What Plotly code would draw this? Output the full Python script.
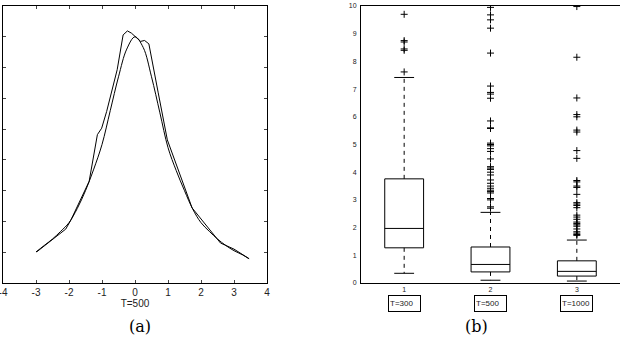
import plotly.graph_objects as go

# ---------- panel (a) data ----------
emp_x = [-2.98, -2.1, -1.95, -1.39, -1.14, -1.01, -0.86, -0.54, -0.36, -0.23, -0.11,
         0.17, 0.29, 0.42, 0.7, 0.98, 1.73, 1.98, 2.59, 3.0, 3.46]
emp_y = [1.01, 1.75, 2.03, 3.30, 4.82, 5.03, 5.57, 6.93, 8.06, 8.19, 8.12,
         7.85, 7.88, 7.77, 6.2, 4.65, 2.44, 2.11, 1.30, 1.10, 0.79]
fit_x = [-3.0, -2.75, -2.5, -2.25, -2.0, -1.75, -1.5, -1.25, -1.0, -0.75, -0.5, -0.25, 0.0,
         0.25, 0.5, 0.75, 1.0, 1.25, 1.5, 1.75, 2.0, 2.25, 2.5, 2.75, 3.0, 3.25, 3.45]
fit_y = [1.01, 1.22, 1.43, 1.68, 1.96, 2.42, 3.0, 3.7, 4.5, 5.6, 6.7, 7.6, 8.0,
         7.65, 6.7, 5.55, 4.4, 3.65, 3.0, 2.4, 1.96, 1.68, 1.43, 1.22, 1.05, 0.92, 0.79]
a_xticks = [-4, -3, -2, -1, 0, 1, 2, 3, 4]
a_xtext = ["-4", "-3", "-2", "-1", "0", "1", "2", "3", "4"]

# ---------- panel (b) data ----------
positions = [1, 2, 3]
pos_labels = ["1", "2", "3"]
group_labels = ["T=300", "T=500", "T=1000"]
q1 = [1.27, 0.40, 0.25]
median = [1.97, 0.67, 0.42]
q3 = [3.76, 1.30, 0.80]
low_whisk = [0.35, 0.10, 0.07]
up_whisk = [7.42, 2.55, 1.55]
outliers = [
    [7.62, 8.40, 8.45, 8.70, 8.75, 9.70],
    [2.70, 2.75, 3.0, 3.05, 3.25, 3.30, 3.35, 3.42, 3.50, 3.60, 3.72, 3.90, 4.0, 4.10,
     4.15, 4.20, 4.48, 4.75, 4.85, 4.95, 5.0, 5.05, 5.58, 5.60, 5.85, 6.67, 6.82, 6.88,
     7.11, 8.30, 9.20, 9.50, 9.68, 9.95],
    [1.72, 1.75, 1.80, 1.85, 1.95, 2.05, 2.10, 2.15, 2.20, 2.30, 2.38, 2.45, 2.72, 2.80,
     2.85, 2.90, 3.20, 3.45, 3.50, 3.65, 3.70, 4.50, 4.78, 5.45, 5.52, 6.0, 6.08, 6.68,
     8.15, 9.98],
]
b_yticks = list(range(0, 11))

BOX_HW = 0.225
CAP_HW = 0.115
LINE = dict(color="black", width=1)

fig = go.Figure()

# panel (a)
fig.add_trace(go.Scatter(x=emp_x, y=emp_y, mode="lines", line=LINE,
                         xaxis="x", yaxis="y", showlegend=False, hoverinfo="skip"))
fig.add_trace(go.Scatter(x=fit_x, y=fit_y, mode="lines", line=dict(color="black", width=1, shape="spline"),
                         xaxis="x", yaxis="y", showlegend=False, hoverinfo="skip"))

# panel (b): boxes drawn from the statistics
for i, p in enumerate(positions):
    bx = [p - BOX_HW, p + BOX_HW, p + BOX_HW, p - BOX_HW, p - BOX_HW]
    by = [q1[i], q1[i], q3[i], q3[i], q1[i]]
    fig.add_trace(go.Scatter(x=bx, y=by, mode="lines", line=LINE,
                             xaxis="x2", yaxis="y2", showlegend=False, hoverinfo="skip"))
    fig.add_trace(go.Scatter(x=[p - BOX_HW, p + BOX_HW], y=[median[i], median[i]], mode="lines",
                             line=LINE, xaxis="x2", yaxis="y2", showlegend=False, hoverinfo="skip"))
    fig.add_trace(go.Scatter(x=[p, p, None, p, p], y=[q3[i], up_whisk[i], None, q1[i], low_whisk[i]],
                             mode="lines", line=dict(color="black", width=1, dash="4px,4px"),
                             xaxis="x2", yaxis="y2", showlegend=False, hoverinfo="skip"))
    fig.add_trace(go.Scatter(x=[p - CAP_HW, p + CAP_HW, None, p - CAP_HW, p + CAP_HW],
                             y=[up_whisk[i], up_whisk[i], None, low_whisk[i], low_whisk[i]],
                             mode="lines", line=LINE, xaxis="x2", yaxis="y2",
                             showlegend=False, hoverinfo="skip"))
    fig.add_trace(go.Scatter(x=[p] * len(outliers[i]), y=outliers[i], mode="markers",
                             marker=dict(symbol="cross-thin", size=5,
                                         line=dict(color="black", width=1)),
                             xaxis="x2", yaxis="y2", showlegend=False, hoverinfo="skip",
                             cliponaxis=True))

W, H = 621, 357
ydom = [(H - 283) / H, (H - 6) / H]
tickfont = dict(family="Liberation Sans", size=10, color="#222")
smallfont = dict(family="Liberation Sans", size=7, color="#222")
boxfont = dict(family="Liberation Sans", size=8, color="#222")

annotations = []
for i, p in enumerate(positions):
    annotations.append(dict(x=p, xref="x2", y=(H - 303) / H, yref="paper", yanchor="middle",
                            text=group_labels[i], showarrow=False, font=boxfont,
                            bordercolor="black", borderwidth=1, borderpad=1, width=29, height=13,
                            align="left"))
annotations.append(dict(x=127 / W, y=(H - 326) / H, xref="paper", yref="paper", yanchor="middle",
                        text="(a)", showarrow=False,
                        font=dict(family="DejaVu Serif", size=16, color="black")))
annotations.append(dict(x=490 / W, y=(H - 326) / H, xref="paper", yref="paper", yanchor="middle",
                        text="(b)", showarrow=False,
                        font=dict(family="DejaVu Serif", size=16, color="black")))

fig.update_layout(
    width=W, height=H, margin=dict(l=0, r=0, t=0, b=0, autoexpand=False),
    paper_bgcolor="white", plot_bgcolor="white",
    xaxis=dict(domain=[3 / W, 267 / W], range=[-4, 4], tickvals=a_xticks, ticktext=a_xtext,
               ticks="inside", ticklen=3, mirror="ticks", showline=True, linecolor="black",
               linewidth=1, showgrid=False, zeroline=False, tickfont=tickfont, automargin=False,
               ticklabeloverflow="allow",
               title=dict(text="T=500", font=tickfont, standoff=1), anchor="y"),
    yaxis=dict(domain=ydom, range=[0, 9], dtick=1, ticks="inside", ticklen=3, mirror="ticks",
               showline=True, linecolor="black", linewidth=1, showgrid=False, zeroline=False,
               showticklabels=False, anchor="x", automargin=False),
    xaxis2=dict(domain=[361 / W, 620 / W], range=[0.5, 3.5], tickvals=positions, ticktext=pos_labels,
                ticks="", showline=True, linecolor="black", linewidth=1, mirror=True,
                showgrid=False, zeroline=False, tickfont=smallfont, anchor="y2", automargin=False),
    yaxis2=dict(domain=ydom, range=[0, 10], tickvals=b_yticks, ticks="", showline=True,
                linecolor="black", linewidth=1, showgrid=False, zeroline=False,
                tickfont=smallfont, anchor="x2", ticklabelstandoff=2, automargin=False),
    annotations=annotations,
)

fig.write_html("out.html")
